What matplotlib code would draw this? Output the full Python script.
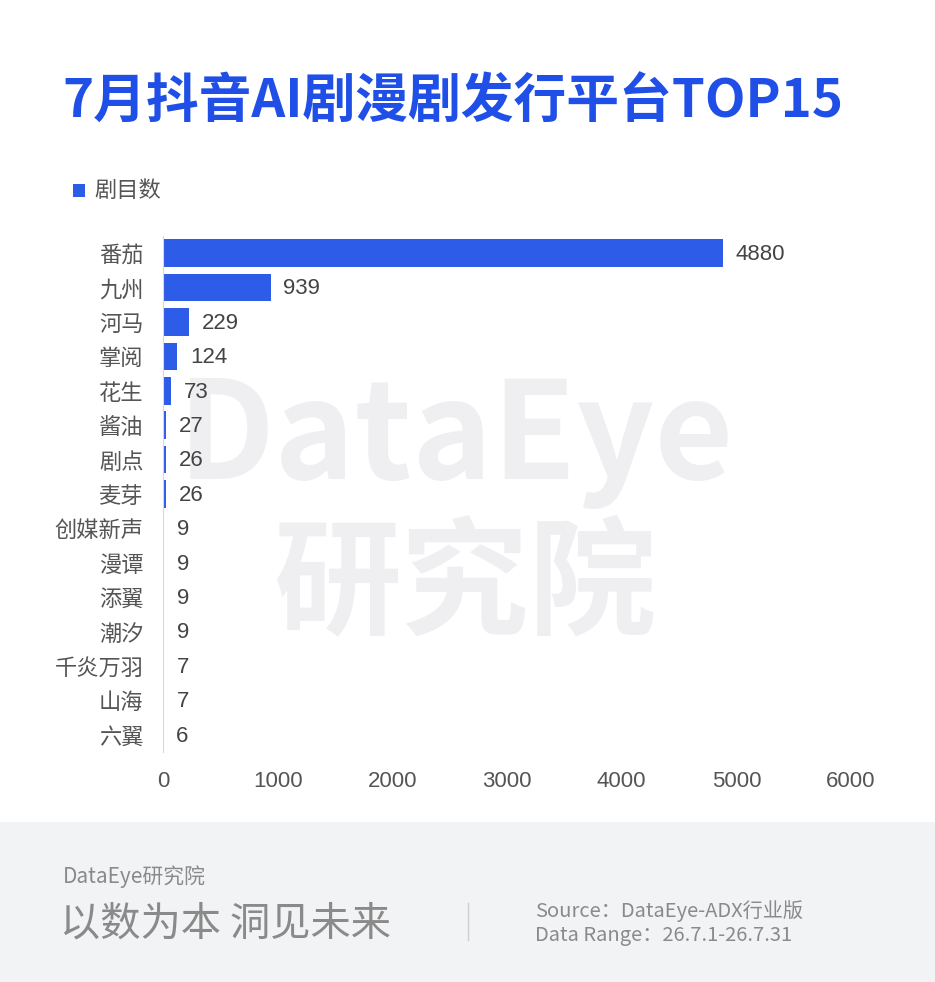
import numpy as np
import matplotlib
matplotlib.use('Agg')
import matplotlib.pyplot as plt
from matplotlib.patches import Rectangle

plt.rcParams['font.family'] = ['Noto Sans CJK SC', 'DejaVu Sans']

platforms = ["番茄", "九州", "河马", "掌阅", "花生", "酱油", "剧点", "麦芽",
             "创媒新声", "漫谭", "添翼", "潮汐", "千炎万羽", "山海", "六翼"]
counts = [4880, 939, 229, 124, 73, 27, 26, 26, 9, 9, 9, 9, 7, 7, 6]
x_ticks = [0, 1000, 2000, 3000, 4000, 5000, 6000]

bar_color = "#2d5de8"
num_font = ['Liberation Sans', 'DejaVu Sans']
fig = plt.figure(figsize=(9.35, 9.82), dpi=100)

# footer band
fig.patches.append(Rectangle((0, 0), 1, 160 / 982, transform=fig.transFigure,
                             facecolor="#f2f3f5", edgecolor="none", zorder=-3))

# watermark
fig.text(0.488, 1 - 440 / 982, "DataEye", fontsize=98, color="#efeff2", ha="center", va="center",
         fontweight="bold", zorder=-2)
fig.text(0.497, 1 - 588 / 982, "研究院", fontsize=92, color="#efeff2", ha="center", va="center",
         fontweight="bold", zorder=-2)

ax = fig.add_axes([163 / 935, 1 - 752 / 982, (851 - 163) / 935, (752 - 236) / 982])
ax.set_zorder(1)
ax.patch.set_alpha(0)
y = np.arange(len(platforms))
ax.barh(y, counts, height=0.8, color=bar_color, zorder=2)
ax.set_ylim(len(platforms) - 0.5, -0.5)
ax.set_xlim(0, 6000)
ax.set_yticks(y)
ax.set_yticklabels(platforms, fontsize=16, color="#555555")
ax.set_xticks(x_ticks)
ax.set_xticklabels([str(t) for t in x_ticks], fontsize=16, color="#555555", family=num_font)
ax.tick_params(axis="both", length=0)
ax.tick_params(axis="x", pad=14)
ax.tick_params(axis="y", pad=14)
for s in ["top", "right", "bottom"]:
    ax.spines[s].set_visible(False)
ax.spines["left"].set_color("#d8d8d8")
for yi, v in zip(y, counts):
    ax.text(v + 110, yi + 0.04, str(v), va="center", ha="left", fontsize=16, color="#444444",
            family=num_font, zorder=3)

# title
fig.text(62 / 935, 1 - 102 / 982, "7月抖音AI剧漫剧发行平台TOP15", fontsize=38,
         fontweight="bold", color="#1f4fe6", va="center", ha="left")

# legend
fig.patches.append(Rectangle((73 / 935, 1 - 197 / 982), 12 / 935, 13 / 982,
                             transform=fig.transFigure, facecolor=bar_color, edgecolor="none"))
fig.text(94 / 935, 1 - 190 / 982, "剧目数", fontsize=16, color="#555555", va="center", ha="left")

# footer texts
fig.text(63 / 935, 1 - 877 / 982, "DataEye研究院", fontsize=15, color="#8a8a8a", va="center", ha="left")
fig.text(60 / 935, 1 - 924 / 982, "以数为本 洞见未来", fontsize=29, color="#8a8a8a", va="center", ha="left")
fig.add_artist(plt.Line2D([468 / 935, 468 / 935], [1 - 940 / 982, 1 - 903 / 982],
                          transform=fig.transFigure, color="#cfcfcf", lw=1))
fig.text(535 / 935, 1 - 911 / 982, "Source：DataEye-ADX行业版", fontsize=14.5, color="#8a8a8a", va="center", ha="left")
fig.text(535 / 935, 1 - 936 / 982, "Data Range：26.7.1-26.7.31", fontsize=14.5, color="#8a8a8a", va="center", ha="left")

plt.savefig("out.png", dpi=100)
plt.close()
